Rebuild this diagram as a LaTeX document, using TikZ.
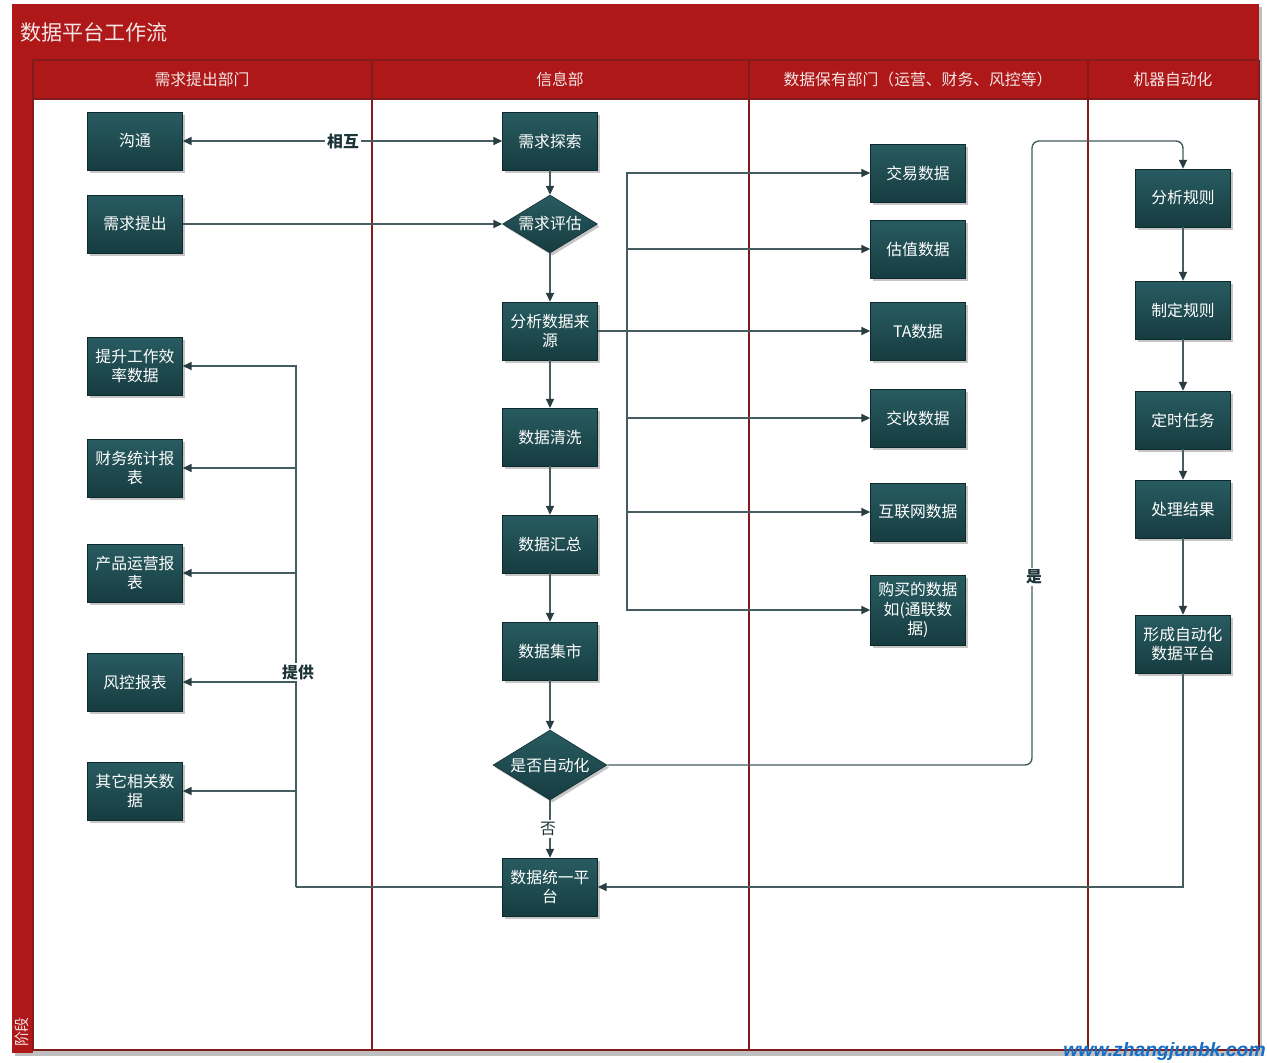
\documentclass[tikz,border=0pt]{standalone}
\usepackage{fontspec}
\setmainfont{Noto Sans CJK SC}
\newfontfamily\wmfont{Liberation Sans}
\usetikzlibrary{shapes.geometric,arrows.meta,shadows,shadings}
\definecolor{lanered}{RGB}{174,24,24}
\definecolor{laneline}{RGB}{130,28,28}
\definecolor{boxtop}{RGB}{40,92,97}
\definecolor{boxbot}{RGB}{22,60,64}
\definecolor{linec}{RGB}{70,92,96}
\definecolor{tipc}{RGB}{40,62,66}
\definecolor{lblc}{RGB}{28,52,56}
\definecolor{wmblue}{RGB}{20,110,200}
\definecolor{hdrtext}{RGB}{245,228,228}
\begin{document}
\begin{tikzpicture}[x=0.02cm,y=-0.02cm,
  boxfont/.style={font=\fontsize{9}{11.3}\selectfont},
  proc/.style={rectangle, top color=boxtop, bottom color=boxbot, draw=boxbot!70!black, line width=0.3pt,
    minimum width=1.9cm, minimum height=1.16cm, text=white, align=center, boxfont, inner sep=1pt,
    drop shadow={shadow xshift=1.2pt,shadow yshift=-1.5pt,opacity=0.45}},
  dec/.style={diamond, top color=boxtop, bottom color=boxbot, draw=boxbot!70!black, line width=0.3pt,
    text=white, align=center, boxfont, inner sep=0pt, aspect=1.63,
    drop shadow={shadow xshift=1.2pt,shadow yshift=-1.5pt,opacity=0.45}},
  conn/.style={draw=linec, line width=0.8pt, -{Triangle[length=5pt,width=4.5pt,color=tipc]}},
  plain/.style={draw=linec, line width=0.8pt},
  lbl/.style={fill=white, text=lblc, font=\fontsize{9}{11}\selectfont\bfseries, inner sep=1pt},
  hdr/.style={text=hdrtext, font=\fontsize{9}{11}\selectfont},
  laneln/.style={draw=laneline, line width=1.1pt}
]
\useasboundingbox (0,0) rectangle (1267,1062);
\fill[white] (0,0) rectangle (1267,1062);

% frame
\fill[black!25] (15,7) rectangle (1262,1056);
\fill[white] (33,99) rectangle (1259,1050);
\fill[lanered] (12,4) rectangle (1259,60);
\fill[lanered] (12,60) rectangle (33,1053);
\fill[lanered] (33,60) rectangle (1259,99);
\draw[laneln] (33,60) -- (1259,60);
\draw[laneln] (33,99) -- (1259,99);
\foreach \xx in {33,372,749,1088,1259} \draw[laneln] (\xx,60) -- (\xx,1050);
\draw[laneln] (33,1050) -- (1259,1050);

\node[anchor=west, text=hdrtext, font=\fontsize{12}{14}\selectfont] (title) at (14,32) {数据平台工作流};
\node[hdr] (h1) at (202,79) {需求提出部门};
\node[hdr] (h2) at (560,79) {信息部};
\node[hdr] (h3) at (918,79) {数据保有部门（运营、财务、风控等）};
\node[hdr] (h4) at (1173,79) {机器自动化};
\node[hdr, rotate=90, font=\fontsize{8.5}{10}\selectfont] (stage) at (22,1032) {阶段};

% lane 1
\node[proc] (gt) at (135,141) {沟通};
\node[proc] (tc) at (135,224) {需求提出};
\node[proc] (eff) at (135,366) {提升工作效\\率数据};
\node[proc] (fin) at (135,468) {财务统计报\\表};
\node[proc] (prd) at (135,573) {产品运营报\\表};
\node[proc] (risk) at (135,682) {风控报表};
\node[proc] (oth) at (135,791) {其它相关数\\据};

% lane 2
\node[proc] (xq) at (550,141) {需求探索};
\node[dec, minimum width=1.9cm, minimum height=1.16cm] (pg) at (550,224) {需求评估};
\node[proc] (src) at (550,331) {分析数据来\\源};
\node[proc] (qx) at (550,437) {数据清洗};
\node[proc] (hz) at (550,544) {数据汇总};
\node[proc] (js) at (550,651) {数据集市};
\node[dec, minimum width=2.28cm, minimum height=1.4cm] (auto) at (550,765) {是否自动化};
\node[proc] (uni) at (550,887) {数据统一平\\台};

% lane 3
\node[proc] (jy) at (918,173) {交易数据};
\node[proc] (gz) at (918,249) {估值数据};
\node[proc] (ta) at (918,331) {TA数据};
\node[proc] (js2) at (918,418) {交收数据};
\node[proc] (hl) at (918,512) {互联网数据};
\node[proc, minimum height=1.4cm] (gm) at (918,610) {购买的数据\\如(通联数\\据)};

% lane 4
\node[proc] (ar) at (1183,198) {分析规则};
\node[proc] (zd) at (1183,310) {制定规则};
\node[proc] (ds) at (1183,420) {定时任务};
\node[proc] (cl) at (1183,509) {处理结果};
\node[proc] (form) at (1183,644) {形成自动化\\数据平台};

% connectors
\draw[conn, {Triangle[length=5pt,width=4.5pt,color=tipc]}-{Triangle[length=5pt,width=4.5pt,color=tipc]}] (gt.east) -- (xq.west);
\node[lbl] (lxh) at (343,141) {相互};
\draw[conn] (tc.east) -- (pg.west);
\draw[conn] (xq.south) -- (pg.north);
\draw[conn] (pg.south) -- (src.north);
\draw[conn] (src.south) -- (qx.north);
\draw[conn] (qx.south) -- (hz.north);
\draw[conn] (hz.south) -- (js.north);
\draw[conn] (js.south) -- (auto.north);
\draw[conn] (auto.south) -- (uni.north);
\node[lbl, font=\fontsize{9}{11}\selectfont] (lno) at (548,829) {否};

\coordinate (tk) at (627,331);
\draw[conn] (src.east) -- (ta.west);
\draw[conn] (tk) |- (jy.west);
\draw[conn] (tk) |- (gz.west);
\draw[conn] (tk) |- (js2.west);
\draw[conn] (tk) |- (hl.west);
\draw[conn] (tk) |- (gm.west);

\coordinate (yy) at (1032,141);
\draw[conn, rounded corners=4pt] (auto.east) -| (yy) -| (ar.north);
\node[lbl] (lyes) at (1034,577) {是};

\draw[conn] (ar.south) -- (zd.north);
\draw[conn] (zd.south) -- (ds.north);
\draw[conn] (ds.south) -- (cl.north);
\draw[conn] (cl.south) -- (form.north);
\draw[conn] (form.south) |- (uni.east);

\coordinate (pv) at (296,887);
\draw[plain] (uni.west) -- (pv);
\draw[conn] (pv) |- (eff.east);
\draw[conn] (pv) |- (fin.east);
\draw[conn] (pv) |- (prd.east);
\draw[conn] (pv) |- (risk.east);
\draw[conn] (pv) |- (oth.east);
\node[lbl] (lpv) at (298,672) {提供};

\node[anchor=east, text=wmblue, font=\wmfont\bfseries\itshape\fontsize{11}{11}\selectfont, inner sep=0pt] (wm) at (1266,1051) {www.zhangjunbk.com};
\end{tikzpicture}
\end{document}
